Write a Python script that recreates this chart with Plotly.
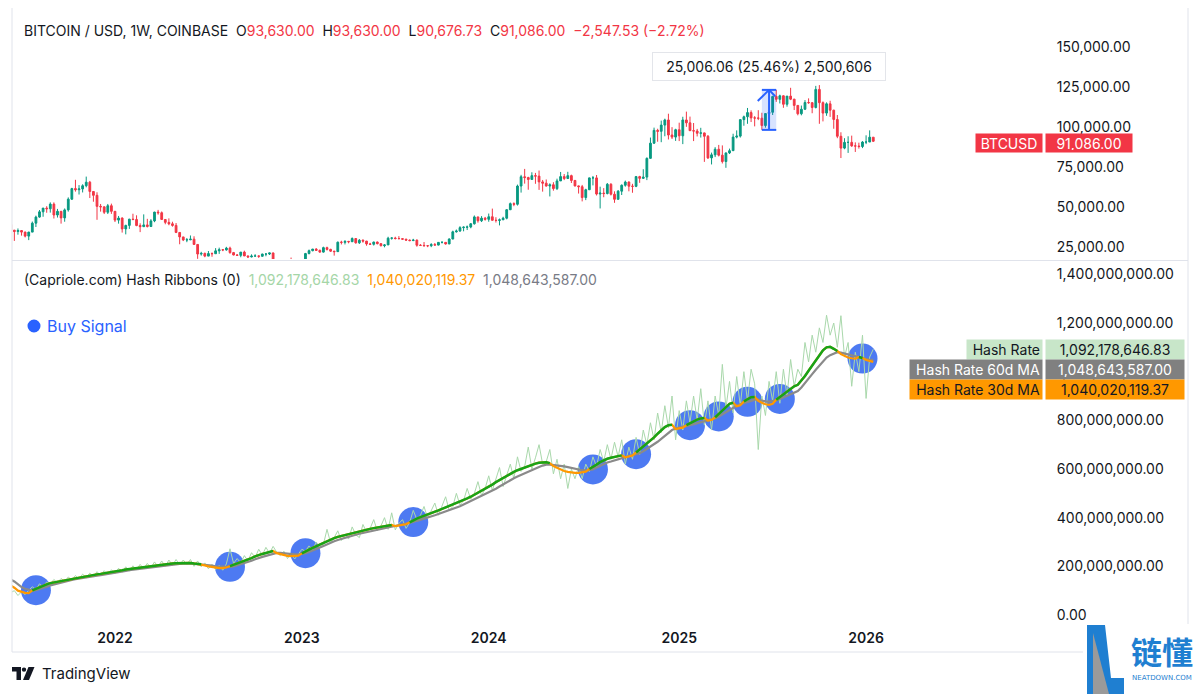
import plotly.graph_objects as go
import pandas as pd

# ---------------- DATA ----------------
START = "2021-06-07"          # first weekly bar (Monday)
FIRST_OPEN_K = 35.8           # open of the first weekly bar, thousand USD

# weekly closes (thousand USD)
close_k = [
    # 2021
    39.1, 35.5, 34.7, 35.3, 34.3, 31.8, 34.3, 39.9, 43.7, 47.0, 49.3, 48.9, 51.8, 45.0, 47.3,
    43.2, 48.2, 54.9, 61.5, 60.8, 61.3, 63.3, 65.5, 59.7, 57.3, 50.4, 50.1, 46.7, 50.8, 47.3,
    # 2022
    41.8, 43.1, 36.3, 38.5, 42.4, 42.2, 38.4, 37.7, 38.8, 37.8, 41.3, 46.8, 46.4, 42.2, 40.4,
    39.5, 38.5, 34.1, 31.3, 29.4, 29.5, 29.9, 26.6, 20.6, 21.0, 19.3, 20.9, 20.8, 22.6, 23.3,
    23.2, 24.3, 21.5, 20.0, 19.8, 21.8, 19.4, 18.8, 19.3, 19.4, 19.2, 20.6, 20.6, 21.3, 16.3,
    16.3, 16.5, 17.1, 17.1, 16.8, 16.8, 16.6,
    # 2023
    17.1, 20.9, 22.7, 23.7, 22.9, 21.8, 24.6, 23.5, 22.4, 22.1, 28.0, 27.9, 28.5, 28.3, 30.3,
    27.6, 29.2, 28.7, 26.9, 26.7, 28.1, 27.1, 25.8, 26.3, 30.5, 30.6, 30.3, 30.2, 29.9, 29.3,
    29.0, 29.3, 26.1, 26.0, 25.8, 25.8, 26.5, 26.2, 27.9, 27.9, 26.9, 30.0, 34.5, 35.0, 37.1,
    37.4, 37.5, 39.5, 43.8, 41.4, 43.0, 42.3,
    # 2024
    43.9, 41.7, 41.6, 42.0, 43.0, 48.3, 52.1, 51.7, 63.1, 68.9, 68.4, 67.2, 69.6, 69.3, 65.7,
    64.9, 63.1, 63.9, 61.5, 66.3, 69.0, 67.8, 69.6, 66.6, 63.2, 62.7, 55.9, 60.8, 68.2, 68.2,
    58.1, 58.7, 58.4, 64.2, 58.0, 54.8, 59.9, 63.6, 65.6, 63.0, 62.9, 69.0, 67.9, 68.7, 80.4,
    89.9, 97.9, 97.3, 101.2, 104.4, 95.0, 93.7, 98.3,
    # 2025
    94.5, 104.4, 102.6, 97.7, 97.5, 96.1, 96.3, 94.2, 80.7, 82.6, 86.1, 82.4, 78.4, 83.8, 85.2,
    93.7, 94.3, 104.6, 106.4, 109.0, 105.7, 105.6, 105.5, 100.9, 108.4, 109.2, 119.1, 117.3,
    119.5, 114.2, 119.3, 117.4, 113.5, 108.3, 111.1, 115.3, 115.2, 112.2, 123.5, 115.2, 108.7,
    114.5, 110.5, 104.7, 94.2, 86.8, 90.4, 90.4, 88.2, 88.1, 87.8, 90.6,
    # 2026
    90.6, 93.63, 91.086,
]

high_k = [
    # 2021
    41.3, 41.3, 35.7, 36.6, 35.4, 34.6, 34.5, 40.9, 44.6, 48.1, 49.4, 50.5, 52.9, 52.9, 48.8,
    47.3, 49.1, 56.0, 62.0, 67.0, 63.7, 64.2, 69.0, 66.3, 59.9, 59.2, 51.9, 50.3, 51.9, 52.1,
    # 2022
    47.5, 44.4, 43.5, 38.9, 42.6, 45.8, 44.8, 39.8, 45.4, 42.6, 42.4, 47.0, 48.2, 47.2, 42.4,
    42.9, 40.8, 40.0, 34.3, 31.3, 30.6, 32.2, 31.7, 26.8, 22.0, 21.5, 22.5, 21.6, 24.3, 24.6,
    23.6, 25.1, 25.2, 21.9, 20.6, 21.8, 22.7, 19.7, 20.4, 20.5, 19.7, 20.8, 21.0, 21.4, 21.4,
    17.2, 16.8, 17.3, 17.4, 18.4, 17.0, 16.9,
    # 2023
    17.2, 21.3, 23.4, 23.8, 24.3, 23.4, 25.2, 25.2, 23.9, 22.6, 28.4, 28.9, 29.2, 28.8, 31.0,
    30.5, 30.0, 29.8, 28.8, 27.6, 28.3, 28.4, 27.4, 26.8, 31.4, 31.0, 31.4, 31.8, 30.4, 30.1,
    29.7, 30.1, 29.7, 26.8, 28.1, 26.1, 27.4, 27.5, 28.0, 28.6, 28.0, 30.4, 35.2, 35.9, 38.0,
    37.9, 38.4, 40.0, 44.7, 43.6, 44.3, 43.8,
    # 2024
    45.9, 49.0, 43.6, 42.8, 43.9, 48.6, 52.8, 52.9, 64.0, 70.1, 73.8, 68.9, 71.7, 71.3, 72.8,
    66.9, 67.2, 64.8, 65.5, 67.7, 71.9, 70.6, 72.0, 70.2, 66.9, 63.4, 63.8, 61.4, 68.4, 69.4,
    70.0, 62.7, 61.8, 65.0, 64.9, 59.8, 60.6, 64.1, 66.5, 66.0, 64.5, 69.4, 69.5, 73.6, 81.0,
    93.4, 99.6, 98.9, 104.0, 105.2, 108.3, 99.9, 98.9,
    # 2025
    102.7, 106.4, 109.6, 106.5, 102.5, 98.8, 99.5, 96.5, 95.0, 84.0, 87.4, 88.8, 88.5, 84.0,
    86.5, 95.8, 97.9, 104.9, 107.1, 111.9, 110.4, 106.8, 110.5, 108.9, 108.5, 110.6, 119.5,
    123.2, 120.2, 119.8, 119.3, 124.5, 117.6, 113.7, 113.4, 116.8, 117.9, 115.4, 125.7, 126.2,
    116.0, 115.4, 116.4, 110.8, 107.5, 96.7, 93.0, 94.2, 94.6, 90.4, 90.2, 91.2,
    # 2026
    94.8, 97.9, 93.63,
]

low_k = [
    # 2021
    31.0, 34.8, 28.8, 32.7, 32.1, 31.0, 29.3, 34.3, 37.5, 43.3, 43.9, 46.4, 46.5, 42.8, 43.4,
    39.6, 40.8, 47.1, 54.4, 59.6, 57.8, 59.1, 62.3, 55.6, 53.3, 42.0, 47.1, 45.6, 45.6, 45.7,
    # 2022
    40.6, 39.6, 34.0, 32.9, 36.3, 41.7, 38.0, 34.3, 37.5, 37.2, 37.6, 40.5, 45.2, 42.1, 39.2,
    38.6, 37.7, 33.7, 26.7, 28.7, 28.0, 29.3, 26.5, 17.6, 19.6, 18.6, 19.3, 18.9, 20.8, 20.7,
    22.4, 22.7, 20.8, 19.8, 19.6, 18.6, 19.4, 18.1, 18.5, 19.2, 18.2, 18.9, 19.2, 20.0, 15.6,
    16.0, 15.5, 16.0, 16.7, 16.3, 16.4, 16.4,
    # 2023
    16.6, 17.1, 20.4, 22.3, 22.5, 21.4, 21.5, 22.8, 21.9, 19.6, 21.9, 26.6, 26.6, 27.3, 28.2,
    27.1, 26.9, 27.7, 25.8, 26.4, 25.9, 26.6, 25.4, 24.8, 26.3, 29.6, 29.7, 29.9, 29.5, 28.9,
    28.6, 28.7, 25.2, 25.8, 25.3, 24.9, 24.9, 26.0, 26.0, 27.2, 26.5, 26.8, 29.8, 34.0, 34.5,
    34.8, 35.6, 36.7, 39.0, 40.2, 40.6, 41.5,
    # 2024
    40.8, 41.5, 40.3, 38.5, 41.9, 42.3, 48.1, 50.5, 50.9, 59.0, 64.6, 60.8, 67.2, 64.5, 60.7,
    59.6, 62.8, 56.6, 60.2, 60.6, 66.3, 66.8, 67.5, 65.0, 62.8, 58.4, 53.5, 54.3, 60.6, 63.5,
    57.2, 49.1, 56.1, 57.9, 57.2, 52.6, 54.6, 57.5, 62.7, 59.8, 58.9, 62.4, 65.1, 67.5, 66.8,
    80.2, 89.4, 90.8, 90.5, 94.2, 92.2, 92.5, 91.3,
    # 2025
    91.2, 89.3, 100.1, 97.6, 91.2, 94.1, 93.4, 78.2, 80.0, 76.6, 81.2, 81.6, 77.2, 74.5, 83.1,
    85.1, 92.9, 93.4, 100.8, 102.0, 103.1, 100.4, 104.3, 98.2, 99.6, 105.1, 107.5, 115.7,
    114.7, 112.0, 112.7, 116.8, 110.6, 107.3, 107.3, 110.6, 114.5, 108.6, 111.6, 102.0, 103.5,
    107.0, 106.3, 98.9, 93.0, 80.6, 86.1, 83.8, 87.6, 84.4, 86.5, 86.8,
    # 2026
    89.3, 90.6, 90.67673,
]

# hash rate, EH/s (weekly)
hash_raw_eh = [
    70, 92, 100, 80, 95, 84, 102, 116, 104, 128,
    116, 136, 126, 146, 132, 150, 138, 156, 144, 162,
    148, 168, 154, 172, 158, 178, 162, 182, 166, 186,
    170, 192, 176, 198, 180, 202, 186, 208, 190, 212,
    194, 218, 198, 222, 200, 226, 204, 228, 206, 226,
    208, 228, 200, 222, 198, 214, 190, 208, 186, 204,
    184, 210, 272, 212, 232, 214, 244, 222, 256, 236,
    270, 246, 278, 254, 282, 258, 244, 262, 232, 252,
    230, 248, 270, 262, 284, 268, 300, 278, 290, 352,
    296, 318, 346, 306, 330, 312, 362, 330, 318, 372,
    340, 356, 392, 346, 366, 400, 352, 420, 350, 376,
    392, 356, 380, 430, 392, 410, 446, 398, 426, 460,
    410, 452, 486, 430, 446, 500, 452, 470, 520, 476,
    500, 548, 490, 520, 572, 512, 560, 606, 528, 576,
    620, 560, 650, 590, 610, 690, 600, 646, 700, 620,
    630, 680, 580, 640, 560, 620, 520, 600, 560, 610,
    560, 620, 590, 650, 610, 680, 630, 700, 640, 710,
    650, 720, 620, 690, 640, 730, 660, 760, 700, 790,
    720, 830, 750, 860, 770, 900, 720, 840, 760, 880,
    790, 900, 800, 930, 780, 880, 760, 900, 820, 1030,
    850, 960, 830, 980, 860, 1000, 880, 1010, 950, 680,
    900, 820, 960, 880, 1000, 870, 1010, 900, 1050, 940,
    1010, 980, 1120, 1040, 1150, 1080, 1180, 1120, 1232, 1150,
    1200, 1100, 1230, 1060, 1120, 940, 1080, 1000, 1150, 890,
    1060, 1092.17864683,
]

hash_ma30_eh = [
    131, 122, 112, 100, 94, 91, 90, 101, 108, 115,
    120, 126, 131, 134, 137, 140, 143, 146, 149, 152,
    155, 157, 160, 162, 165, 167, 169, 171, 173, 175,
    178, 181, 184, 187, 189, 191, 193, 196, 198, 200,
    202, 204, 206, 207, 208, 210, 212, 213, 214, 215,
    215, 214, 212, 210, 209, 204, 200, 197, 194, 193,
    193, 195, 201, 206, 212, 217, 222, 228, 234, 241,
    247, 251, 255, 259, 263, 254, 250, 246, 243, 242,
    242, 244, 253, 262, 269, 276, 283, 291, 298, 305,
    311, 316, 321, 325, 329, 333, 337, 341, 344, 347,
    350, 354, 357, 360, 363, 366, 368, 370, 365, 367,
    370, 373, 381, 390, 396, 402, 407, 413, 418, 424,
    430, 436, 442, 448, 453, 458, 465, 472, 479, 486,
    494, 502, 510, 518, 527, 536, 546, 555, 564, 572,
    580, 588, 595, 601, 607, 613, 618, 622, 626, 628,
    628, 624, 612, 605, 598, 592, 588, 585, 584, 584,
    586, 589, 600, 608, 618, 628, 636, 642, 646, 650,
    654, 656, 648, 650, 655, 668, 680, 692, 705, 718,
    730, 745, 760, 772, 780, 782, 764, 766, 770, 780,
    788, 796, 803, 808, 810, 799, 802, 812, 826, 842,
    858, 868, 872, 858, 862, 878, 888, 895, 896, 880,
    872, 866, 864, 868, 885, 896, 908, 920, 932, 940,
    946, 962, 982, 1004, 1025, 1048, 1070, 1088, 1100, 1102,
    1094, 1085, 1072, 1064, 1058, 1055, 1054, 1060, 1056, 1048,
    1043, 1040.02011937,
]

hash_ma60_eh = [
    150, 146, 138, 125, 115, 108, 103, 100, 102, 106,
    110, 116, 122, 126, 130, 134, 138, 141, 144, 147,
    150, 152, 155, 157, 160, 162, 164, 166, 168, 170,
    172, 175, 178, 181, 184, 186, 188, 190, 193, 195,
    197, 199, 201, 203, 204, 205, 207, 208, 210, 211,
    212, 211, 210, 209, 208, 207, 205, 203, 200, 199,
    198, 198, 198, 200, 204, 208, 213, 218, 223, 229,
    235, 239, 243, 247, 251, 255, 255, 253, 251, 250,
    249, 249, 250, 254, 259, 264, 270, 277, 284, 291,
    298, 303, 308, 313, 318, 322, 326, 330, 334, 337,
    340, 344, 347, 351, 354, 358, 361, 364, 367, 370,
    373, 375, 378, 382, 387, 391, 396, 400, 405, 410,
    415, 420, 425, 430, 435, 440, 447, 454, 461, 468,
    475, 482, 489, 496, 503, 510, 519, 528, 537, 546,
    555, 562, 569, 576, 583, 590, 596, 602, 608, 614,
    618, 618, 617, 615, 613, 611, 608, 604, 600, 597,
    595, 594, 595, 598, 606, 614, 622, 627, 631, 636,
    641, 646, 650, 653, 657, 661, 665, 673, 682, 691,
    700, 712, 724, 736, 748, 760, 766, 771, 774, 776,
    780, 784, 789, 793, 798, 801, 805, 808, 816, 825,
    835, 845, 853, 860, 866, 872, 876, 880, 885, 885,
    881, 878, 877, 878, 882, 888, 894, 901, 908, 914,
    920, 935, 952, 970, 990, 1008, 1025, 1042, 1058, 1068,
    1075, 1080, 1078, 1074, 1070, 1066, 1062, 1058, 1054, 1051,
    1049, 1048.643587,
]

buy_signal_idx = [8, 62, 83, 113, 163, 175, 190, 198, 206, 215, 238]

price_ticks = [25000, 50000, 75000, 100000, 125000, 150000]
hash_ticks = [0, 200e6, 400e6, 600e6, 800e6, 1000e6, 1200e6, 1400e6]

measure_from_idx, measure_to_idx = 210, 214
measure_text = "25,006.06 (25.46%) 2,500,606"
change_text = "\u22122,547.53 (\u22122.72%)"

# ---------------- BUILD ----------------
n = len(close_k)
assert len(high_k) == n and len(low_k) == n, (len(high_k), len(low_k), n)
assert len(hash_raw_eh) == n and len(hash_ma30_eh) == n and len(hash_ma60_eh) == n, (
    len(hash_raw_eh), len(hash_ma30_eh), len(hash_ma60_eh), n)

dates = pd.date_range(START, periods=n, freq="7D")
open_k = [FIRST_OPEN_K] + close_k[:-1]
o = [v * 1000 for v in open_k]
h = [v * 1000 for v in high_k]
l = [v * 1000 for v in low_k]
c = [v * 1000 for v in close_k]
raw = [v * 1e6 for v in hash_raw_eh]
m30 = [v * 1e6 for v in hash_ma30_eh]
m60 = [v * 1e6 for v in hash_ma60_eh]
m30_green = [a if a >= b else None for a, b in zip(m30, m60)]

year_vals, year_text = [], []
for i in range(1, n):
    if dates[i].year != dates[i - 1].year:
        year_vals.append(dates[i])
        year_text.append(str(dates[i].year))

# pixel helpers (plot area: x 12..1045, y 15..622)
L, R, T, B = 12, 1045, 15, 622
W, H = R - L, B - T
def px2x(px):
    return (px - L) / W
def px2y(py):
    return (B - py) / H

RED = "#f23645"
GREEN = "#089981"
TXT = "#131722"
FONT = "Inter, Roboto, sans-serif"
BORDER = "#e0e3eb"

fig = go.Figure()

fig.add_trace(go.Candlestick(
    x=dates, open=o, high=h, low=l, close=c,
    increasing=dict(line=dict(color=GREEN, width=1), fillcolor=GREEN),
    decreasing=dict(line=dict(color=RED, width=1), fillcolor=RED),
    xaxis="x", yaxis="y", hoverinfo="skip",
))

fig.add_trace(go.Scatter(
    x=[dates[i] for i in buy_signal_idx], y=[m60[i] for i in buy_signal_idx],
    mode="markers", marker=dict(size=30, color="rgba(52,104,240,0.88)", line=dict(width=0)),
    xaxis="x2", yaxis="y2", hoverinfo="skip",
))
fig.add_trace(go.Scatter(x=dates, y=raw, mode="lines", line=dict(color="#a9d8ab", width=1),
                         xaxis="x2", yaxis="y2", hoverinfo="skip"))
fig.add_trace(go.Scatter(x=dates, y=m60, mode="lines", line=dict(color="#8a8a8a", width=2.2),
                         xaxis="x2", yaxis="y2", hoverinfo="skip"))
fig.add_trace(go.Scatter(x=dates, y=m30, mode="lines", line=dict(color="#ff9800", width=2.2),
                         xaxis="x2", yaxis="y2", hoverinfo="skip"))
fig.add_trace(go.Scatter(x=dates, y=m30_green, mode="lines", line=dict(color="#17a317", width=2.5),
                         xaxis="x2", yaxis="y2", hoverinfo="skip"))

xr = ["2021-06-16 10:00", "2026-12-19 12:00"]

fig.update_layout(
    width=1200, height=694,
    margin=dict(l=L, r=1200 - R, t=T, b=694 - B),
    paper_bgcolor="white", plot_bgcolor="white",
    showlegend=False, hovermode=False,
    font=dict(family=FONT, size=14, color=TXT),
    xaxis=dict(domain=[0, 1], anchor="y", range=xr, showticklabels=False, showgrid=False,
               zeroline=False, showline=False, rangeslider=dict(visible=False), matches="x2",
               ticks=""),
    xaxis2=dict(domain=[0, 1], anchor="y2", range=xr, tickvals=year_vals, ticktext=year_text,
                showgrid=False, zeroline=False, showline=False, ticks="outside", ticklen=3,
                tickcolor="rgba(0,0,0,0)", tickfont=dict(size=14, color=TXT, weight=600)),
    yaxis=dict(domain=[px2y(259), 1], anchor="x", side="right", range=[17500, 170000],
               tickvals=price_ticks, tickformat=",.2f", showgrid=False, zeroline=False,
               showline=False, ticks="outside", ticklen=8, tickcolor="rgba(0,0,0,0)",
               tickfont=dict(size=14, color=TXT)),
    yaxis2=dict(domain=[0, px2y(262)], anchor="x2", side="right", range=[-28.8e6, 1450.7e6],
                tickvals=hash_ticks, tickformat=",.2f", showgrid=False, zeroline=False,
                showline=False, ticks="outside", ticklen=8, tickcolor="rgba(0,0,0,0)",
                tickfont=dict(size=14, color=TXT)),
)

shapes = []
def pline(x0, y0, x1, y1, color=BORDER, width=1):
    shapes.append(dict(type="line", xref="paper", yref="paper", x0=px2x(x0), y0=px2y(y0),
                       x1=px2x(x1), y1=px2y(y1), line=dict(color=color, width=width), layer="above"))

pline(12, 260.5, 1188, 260.5)
pline(12, 652, 1188, 652)
pline(12, 8, 12, 652)
pline(1188, 8, 1188, 652)

# measure tool
mx0, mx1 = dates[measure_from_idx], dates[measure_to_idx]
mmid = dates[(measure_from_idx + measure_to_idx) // 2]
mlo, mhi = l[measure_from_idx], h[measure_to_idx]
blue = "#2962ff"
shapes.append(dict(type="rect", xref="x", yref="y", x0=mx0, x1=mx1, y0=mlo, y1=mhi,
                   fillcolor="rgba(41,98,255,0.18)", line=dict(width=0), layer="above"))
for yy in (mlo, mhi):
    shapes.append(dict(type="line", xref="x", yref="y", x0=mx0, x1=mx1, y0=yy, y1=yy,
                       line=dict(color=blue, width=2), layer="above"))
shapes.append(dict(type="line", xref="x", yref="y", x0=mmid, x1=mmid, y0=mlo, y1=mhi,
                   line=dict(color=blue, width=2), layer="above"))
wing_dx = pd.Timedelta(days=22)
wing_dy = 7000
shapes.append(dict(type="line", xref="x", yref="y", x0=mmid, x1=mmid - wing_dx, y0=mhi, y1=mhi - wing_dy,
                   line=dict(color=blue, width=2), layer="above"))
shapes.append(dict(type="line", xref="x", yref="y", x0=mmid, x1=mmid + pd.Timedelta(days=12), y0=mhi,
                   y1=mhi - 4000, line=dict(color=blue, width=2), layer="above"))

# Buy Signal legend dot
shapes.append(dict(type="circle", xref="paper", yref="paper", x0=px2x(27.5), x1=px2x(40.5),
                   y0=px2y(332.5), y1=px2y(319.5), fillcolor=blue, line=dict(width=0), layer="above"))

def ppath(points):
    return "M " + " L ".join(f"{px2x(a):.5f},{px2y(b):.5f}" for a, b in points) + " Z"

# TradingView logo mark
shapes.append(dict(type="path", xref="paper", yref="paper",
                   path=ppath([(12, 667), (21, 667), (21, 680), (16.5, 680), (16.5, 671.5), (12, 671.5)]),
                   fillcolor=TXT, line=dict(width=0), layer="above"))
shapes.append(dict(type="circle", xref="paper", yref="paper", x0=px2x(21.8), x1=px2x(26.2),
                   y0=px2y(671.8), y1=px2y(667.4), fillcolor=TXT, line=dict(width=0), layer="above"))
shapes.append(dict(type="path", xref="paper", yref="paper",
                   path=ppath([(28.5, 667), (34.5, 667), (29, 680), (23, 680)]),
                   fillcolor=TXT, line=dict(width=0), layer="above"))

# watermark
shapes.append(dict(type="rect", xref="paper", yref="paper", x0=px2x(1083), x1=px2x(1200),
                   y0=px2y(694), y1=px2y(624), fillcolor="white", line=dict(width=0), layer="above"))
shapes.append(dict(type="path", xref="paper", yref="paper",
                   path=ppath([(1087, 625), (1105, 625), (1111, 678), (1124, 678), (1124, 694), (1087, 694)]),
                   fillcolor="#1f7fd1", line=dict(width=0), layer="above"))
shapes.append(dict(type="path", xref="paper", yref="paper",
                   path=ppath([(1093, 633), (1109, 694), (1093, 694)]),
                   fillcolor="#9a9a9a", line=dict(width=0), layer="above"))

fig.update_layout(shapes=shapes)

def red(s):
    return f'<span style="color:{RED}">{s}</span>'

sp = "\u00a0\u00a0"
header = ("BITCOIN / USD, 1W, COINBASE" + sp + "O" + red(f"{o[-1]:,.2f}") + sp + "H" + red(f"{h[-1]:,.2f}")
          + sp + "L" + red(f"{l[-1]:,.2f}") + sp + "C" + red(f"{c[-1]:,.2f}") + sp + red(change_text))

hash_header = ("(Capriole.com) Hash Ribbons (0)" + sp
               + f'<span style="color:#a5d6a7">{raw[-1]:,.2f}</span>' + sp
               + f'<span style="color:#ff9800">{m30[-1]:,.2f}</span>' + sp
               + f'<span style="color:#787b86">{m60[-1]:,.2f}</span>')

ann = []
ann.append(dict(xref="paper", yref="paper", x=px2x(22), y=px2y(30), xanchor="left", yanchor="middle",
                text=header, showarrow=False, font=dict(size=14, color=TXT)))
ann.append(dict(xref="paper", yref="paper", x=px2x(22), y=px2y(279), xanchor="left", yanchor="middle",
                text=hash_header, showarrow=False, font=dict(size=14, color=TXT)))
ann.append(dict(xref="paper", yref="paper", x=px2x(45), y=px2y(326), xanchor="left", yanchor="middle",
                text="Buy Signal", showarrow=False, font=dict(size=16, color=blue)))

# measure tooltip
ann.append(dict(xref="x", yref="paper", x=mmid, y=px2y(66.5), xanchor="center", yanchor="middle",
                text=measure_text, showarrow=False, font=dict(size=14, color=TXT),
                bgcolor="white", bordercolor="#e3e5ea", borderwidth=1, borderpad=5,
                width=222, height=17))

# price tag
ann.append(dict(xref="paper", yref="y", x=px2x(1043), y=c[-1], yshift=-2, xanchor="right", yanchor="middle",
                text="BTCUSD", showarrow=False, font=dict(size=14, color="white"),
                bgcolor=RED, borderpad=2, width=62, height=14, align="center"))
ann.append(dict(xref="paper", yref="y", x=px2x(1045), y=c[-1], yshift=-2, xanchor="left", yanchor="middle",
                text=f"{c[-1]:,.2f}", showarrow=False, font=dict(size=14, color="white"),
                bgcolor=RED, borderpad=2, width=82, height=14, align="center"))

# hash labels
hash_rows = [
    ("Hash Rate", raw[-1], "#c8e6c9", TXT, 71, 0),
    ("Hash Rate 60d MA", m60[-1], "#808080", "white", 128, -20),
    ("Hash Rate 30d MA", m30[-1], "#ff9800", TXT, 128, -40),
]
for name, val, bg, fg, wlab, shift in hash_rows:
    ann.append(dict(xref="paper", yref="y2", x=px2x(1043), y=raw[-1], yshift=shift,
                    xanchor="right", yanchor="middle", text=name, showarrow=False,
                    font=dict(size=14, color=fg), bgcolor=bg, borderpad=2, width=wlab, height=15,
                    align="right"))
    ann.append(dict(xref="paper", yref="y2", x=px2x(1045), y=raw[-1], yshift=shift,
                    xanchor="left", yanchor="middle", text=f"{val:,.2f}", showarrow=False,
                    font=dict(size=14, color=fg), bgcolor=bg, borderpad=2, width=134, height=15,
                    align="center"))

# TradingView text
ann.append(dict(xref="paper", yref="paper", x=px2x(40), y=px2y(673.5), xanchor="left", yanchor="middle",
                text="TradingView", showarrow=False, font=dict(size=15, color=TXT)))

# watermark text
ann.append(dict(xref="paper", yref="paper", x=px2x(1162), y=px2y(650), xanchor="center", yanchor="middle",
                text="链懂", showarrow=False,
                font=dict(family="Noto Sans CJK SC", size=31, color="#1f7fd1", weight=700)))
ann.append(dict(xref="paper", yref="paper", x=px2x(1162), y=px2y(677.5), xanchor="center", yanchor="middle",
                text="NEATDOWN.COM", showarrow=False,
                font=dict(family="DejaVu Sans", size=7, color="#1f7fd1")))

fig.update_layout(annotations=ann)

fig.write_html("out.html")
